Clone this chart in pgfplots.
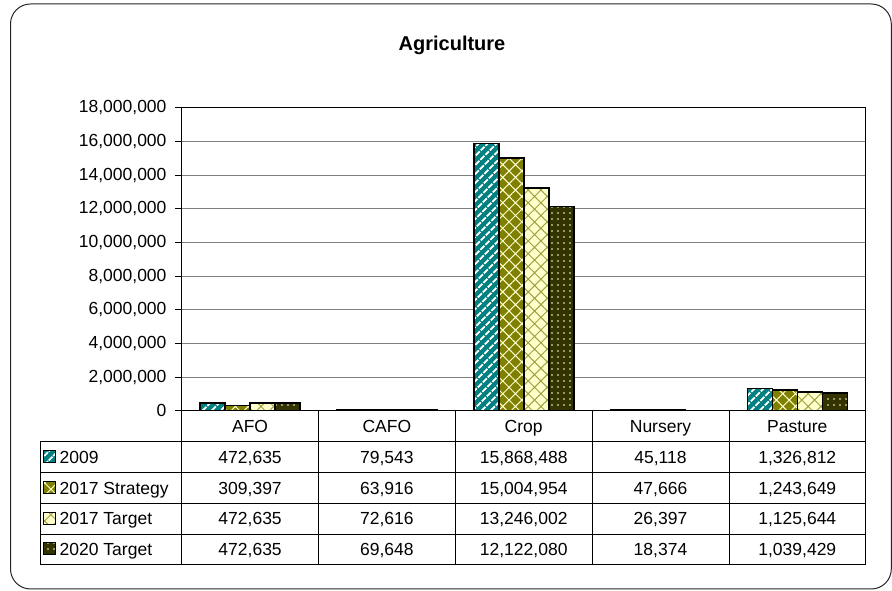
\documentclass[border=0pt]{standalone}
\usepackage{fontspec}
\setmainfont{Liberation Sans}
\usepackage{pgfplots}
\pgfplotsset{compat=1.18}
\usetikzlibrary{patterns.meta}
\definecolor{cteal}{HTML}{008080}
\definecolor{colive}{HTML}{808000}
\definecolor{clight}{HTML}{FFFFCC}
\definecolor{cdark}{HTML}{333300}
\definecolor{chatch}{HTML}{A0A040}
\definecolor{cgrid}{HTML}{808080}
\newcommand{\tfont}{\fontsize{17.5}{21}\selectfont}
\tikzset{
  sA/.style={draw=black, preaction={fill=cteal}, pattern={Lines[angle=45,distance=6.5pt,line width=2.2pt]}, pattern color=white},
  sB/.style={draw=black, preaction={fill=colive}, pattern={Hatch[angle=45,distance=9pt,line width=1pt]}, pattern color=clight!85!white},
  sC/.style={draw=black, preaction={fill=clight}, pattern={Hatch[angle=45,distance=9pt,line width=1pt]}, pattern color=chatch},
  sD/.style={draw=black, preaction={fill=cdark}, pattern={Dots[distance=6pt,radius=0.85pt]}, pattern color=clight!80!white},
  tc/.style={font=\tfont, anchor=base},
}
\begin{document}
\begin{tikzpicture}[x=1pt,y=1pt]
\useasboundingbox (0,0) rectangle (892,591);
\draw[line width=1pt, black!85, rounded corners=20pt] (10.5,2) rectangle (891.3,587);
\node[anchor=base, font=\bfseries\fontsize{20}{24}\selectfont] at (452,540) {Agriculture};
\begin{axis}[
  at={(181.7pt,180.3pt)}, anchor=south west,
  scale only axis, width=684pt, height=303pt,
  xmin=-0.5, xmax=4.5, ymin=0, ymax=18000000,
  ytick={0,2000000,4000000,6000000,8000000,10000000,12000000,14000000,16000000,18000000},
  scaled y ticks=false,
  yticklabel style={font=\tfont, xshift=-5pt, /pgf/number format/fixed, /pgf/number format/1000 sep={,}, /pgf/number format/assume math mode=true},
  xtick=\empty,
  ymajorgrids, grid style={cgrid, line width=0.8pt},
  axis line style={black, line width=0.8pt},
  tick align=outside, ytick pos=left, major tick length=6.7pt,
  tick style={black, line width=0.8pt},
  ybar=0pt, bar width=25pt,
]
\addplot[sA, line width=1.6pt] coordinates {(0,472635) (1,79543) (2,15868488) (3,45118) (4,1326812)};
\addplot[sB, line width=1.6pt] coordinates {(0,309397) (1,63916) (2,15004954) (3,47666) (4,1243649)};
\addplot[sC, line width=1.6pt] coordinates {(0,472635) (1,72616) (2,13246002) (3,26397) (4,1125644)};
\addplot[sD, line width=1.6pt] coordinates {(0,472635) (1,69648) (2,12122080) (3,18374) (4,1039429)};
\end{axis}
% data table
\begin{scope}[line width=0.8pt]
\foreach \y in {149.3,118.7,87.7,57,27} {\draw (40,\y) -- (865.7,\y);}
\draw (40,149.3) -- (40,27);
\foreach \x in {181.7,318.5,455.3,592.1,728.9,865.7} {\draw (\x,180.3) -- (\x,27);}
\end{scope}
\foreach \c [count=\i from 0] in {AFO,CAFO,Crop,Nursery,Pasture} {
  \node[tc] at (250.1+136.8*\i,158.5) {\c};
}
\foreach \v [count=\i from 0] in {472{,}635,79{,}543,15{,}868{,}488,45{,}118,1{,}326{,}812}
  {\node[tc] at (250.1+136.8*\i,127.7) {\v};}
\foreach \v [count=\i from 0] in {309{,}397,63{,}916,15{,}004{,}954,47{,}666,1{,}243{,}649}
  {\node[tc] at (250.1+136.8*\i,96.9) {\v};}
\foreach \v [count=\i from 0] in {472{,}635,72{,}616,13{,}246{,}002,26{,}397,1{,}125{,}644}
  {\node[tc] at (250.1+136.8*\i,66.1) {\v};}
\foreach \v [count=\i from 0] in {472{,}635,69{,}648,12{,}122{,}080,18{,}374,1{,}039{,}429}
  {\node[tc] at (250.1+136.8*\i,35.7) {\v};}
% row labels with keys
\draw[sA, line width=1pt] (43.5,128) rectangle ++(12,12);
\draw[sB, line width=1pt] (43.5,97.2) rectangle ++(12,12);
\draw[sC, line width=1pt] (43.5,66.4) rectangle ++(12,12);
\draw[sD, line width=1pt] (43.5,36) rectangle ++(12,12);
\node[tc, anchor=base west, inner sep=0pt] at (59.5,127.7) {2009};
\node[tc, anchor=base west, inner sep=0pt] at (59.5,96.9) {2017 Strategy};
\node[tc, anchor=base west, inner sep=0pt] at (59.5,66.1) {2017 Target};
\node[tc, anchor=base west, inner sep=0pt] at (59.5,35.7) {2020 Target};
\end{tikzpicture}
\end{document}
